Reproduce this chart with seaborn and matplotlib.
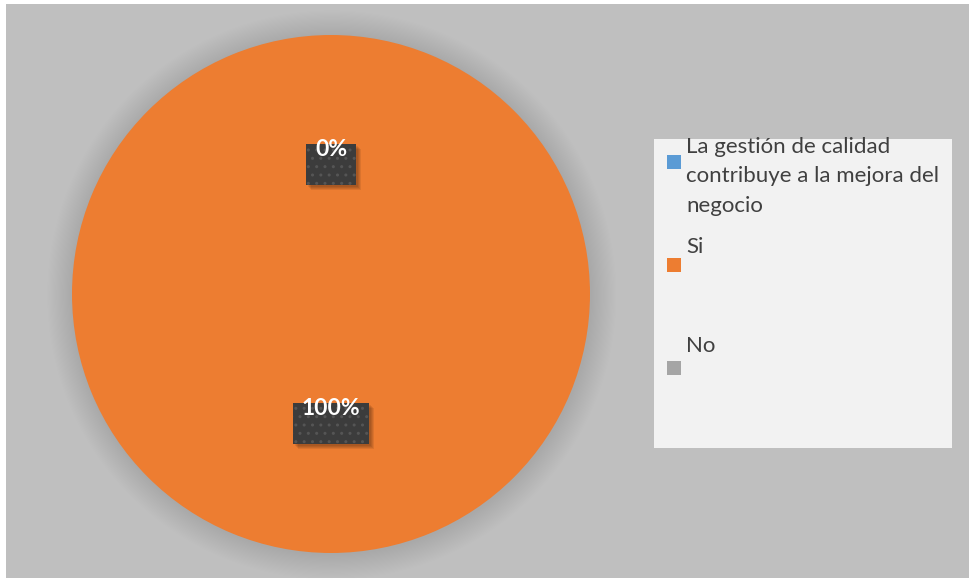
import matplotlib
matplotlib.use("Agg")
import matplotlib.pyplot as plt
from matplotlib.patches import Rectangle, Circle
import numpy as np
import seaborn as sns

# Survey answers: header row, "Si", "No"
categories = ["La gestión de calidad\ncontribuye a la mejora del\nnegocio", "Si", "No"]
values = [0, 100, 0]
colors = ["#5B9BD5", "#ED7D31", "#A5A5A5"]
shown_labels = [True, True, False]

sns.set_theme(style="white")
plt.rcParams["font.family"] = ["Lato", "DejaVu Sans"]

W, H = 969, 581
fig = plt.figure(figsize=(W / 100, H / 100), dpi=100)
fig.patch.set_facecolor("white")


def fx(x):
    return x / W


def fy(y):
    return 1 - y / H


# chart area background
fig.patches.append(Rectangle((fx(6), fy(578)), fx(963), 574 / H,
                             transform=fig.transFigure, facecolor="#BFBFBF",
                             edgecolor="none", zorder=-5))

# pie axes: centre (331, 294), radius 259 px
ax = fig.add_axes([fx(72), fy(553), fx(518), 518 / H])
ax.set_facecolor("none")
ax.set_zorder(2)

total = sum(values)
wedges, _ = ax.pie(values, colors=colors, startangle=90, counterclock=False,
                   radius=1.0, wedgeprops=dict(linewidth=0), normalize=True)
for w in wedges:
    w.set_zorder(1)

ax.set_xlim(-1, 1)
ax.set_ylim(-1, 1)
ax.set_aspect("equal")
ax.axis("off")

# soft glow-like shadow around the pie
for i in range(22):
    ax.add_patch(Circle((0.003, -0.004), 1.0 + 0.0045 * (i + 1), facecolor="black",
                        edgecolor="none", alpha=0.0045, zorder=0, clip_on=False))

px = 1 / 259.0
for w, v, show in zip(wedges, values, shown_labels):
    if not show:
        continue
    ang = np.deg2rad((w.theta1 + w.theta2) / 2)
    cx, cy = 0.5 * np.cos(ang), 0.5 * np.sin(ang)
    txt = f"{round(100 * v / total)}%"
    t = ax.text(cx, cy + 15 * px, txt, ha="center", va="center", color="white",
                fontsize=16.5, fontweight="bold", zorder=5)
    fig.canvas.draw()
    bb = t.get_window_extent()
    bw = (bb.width + 18) * px
    bh = 41 * px
    for k in range(4):
        ax.add_patch(Rectangle((cx - bw / 2 + (2 + k) * px, cy - bh / 2 - (2 + k) * px),
                               bw, bh, facecolor="black", edgecolor="none",
                               alpha=0.08, zorder=3))
    ax.add_patch(Rectangle((cx - bw / 2, cy - bh / 2), bw, bh,
                           facecolor="#3C3C3C", edgecolor="#555555", linewidth=0,
                           hatch="..", zorder=4))

# legend panel
fig.patches.append(Rectangle((fx(654), fy(448)), fx(298), 309 / H,
                             transform=fig.transFigure, facecolor="#F2F2F2",
                             edgecolor="none", zorder=1))
marker_tops = [155, 258, 361]
text_baselines = [153, 253, 352]
for cat, col, mt, tb in zip(categories, colors, marker_tops, text_baselines):
    fig.patches.append(Rectangle((fx(667), fy(mt + 14)), fx(14), 14 / H,
                                 transform=fig.transFigure, facecolor=col,
                                 edgecolor="none", zorder=2))
    for j, line in enumerate(cat.split("\n")):
        fig.text(fx(686), fy(tb + 29.5 * j), line, ha="left", va="baseline",
                 fontsize=16, color="#404040", zorder=3)

fig.savefig("out.png", dpi=100)
